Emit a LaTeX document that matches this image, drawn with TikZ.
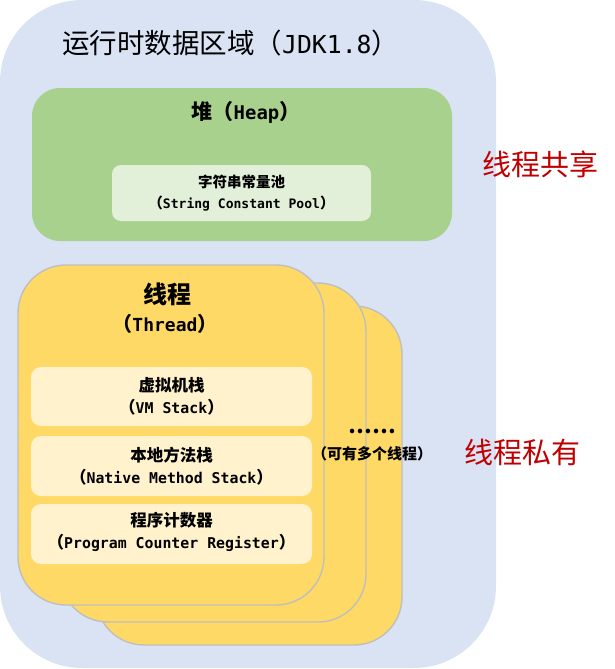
\documentclass[tikz,border=0pt]{standalone}
\usepackage{fontspec}
\setmainfont{Noto Sans CJK SC}
\newfontfamily\latfont[Scale=0.9]{DejaVu Sans Mono}

\definecolor{areablue}{HTML}{DAE3F3}
\definecolor{heapgreen}{HTML}{A9D18E}
\definecolor{poolgreen}{HTML}{E2F0D9}
\definecolor{cardyellow}{HTML}{FFD966}
\definecolor{cardedge}{HTML}{BFBFBF}
\definecolor{boxcream}{HTML}{FFF2CC}
\definecolor{labelred}{HTML}{C00000}

\newcommand{\fsz}[2]{\fontsize{#1}{#2}\selectfont}
\newcommand{\lat}[1]{{\latfont #1}}

\begin{document}
\begin{tikzpicture}[x=1pt,y=-1pt,
  panel/.style={anchor=north west, inner sep=0pt, outer sep=0pt},
  region/.style={panel, fill=areablue, rounded corners=82pt},
  heapbox/.style={panel, fill=heapgreen, rounded corners=28pt},
  poolbox/.style={panel, fill=poolgreen, rounded corners=9pt},
  threadcard/.style={panel, fill=cardyellow, draw=cardedge, line width=1.4pt, rounded corners=48pt,
    minimum width=306pt, minimum height=339pt},
  membox/.style={panel, fill=boxcream, rounded corners=10pt, minimum width=281pt},
  memtext/.style={inner sep=0pt, align=center, font=\bfseries\fsz{16.5}{22.5}},
  redlabel/.style={inner sep=0pt, text=labelred, font=\fsz{29}{32}},
]
\useasboundingbox (0,0) rectangle (615,669);

% runtime data area
\node[region, minimum width=496pt, minimum height=668pt] (area) at (0,0) {};
\node[anchor=west, inner sep=0pt, font=\fsz{27.5}{30}] (areatitle) at (62,43) {运行时数据区域（\lat{JDK1.8}）};

% heap with the string constant pool
\node[heapbox, minimum width=420pt, minimum height=153pt] (heap) at (32,88) {};
\node[inner sep=0pt, font=\bfseries\fsz{21}{24}] (heaptitle) at (246,112) {堆（\lat{Heap}）};
\node[poolbox, minimum width=259pt, minimum height=56pt] (pool) at (112,165) {};
\node[inner sep=0pt, align=center, font=\bfseries\fsz{14.5}{21}] (pooltext) at (pool.center) {字符串常量池\\（\lat{String Constant Pool}）};

% stacked thread cards, back to front
\node[threadcard] (thread3) at (96,306) {};
\node[threadcard] (thread2) at (60,283) {};
\node[threadcard, minimum height=340pt] (thread1) at (18,265) {};
\node[inner sep=0pt, font=\bfseries\fsz{24}{28}] (threadtitle) at (167,294) {线程};
\node[inner sep=0pt, font=\bfseries\fsz{20}{24}] (threadname) at (165,324) {（\lat{Thread}）};

% per-thread memory areas
\node[membox, minimum height=59pt] (vmstack) at (31,367) {};
\node[memtext] (vmtext) at (vmstack.center) {虚拟机栈\\（\lat{VM Stack}）};
\node[membox, minimum height=60pt] (nativestack) at (31,436) {};
\node[memtext] (nativetext) at (nativestack.center) {本地方法栈\\（\lat{Native Method Stack}）};
\node[membox, minimum height=60pt] (pcreg) at (31,504) {};
\node[memtext] (pctext) at ([yshift=2pt]pcreg.center) {程序计数器\\（\lat{Program Counter Register}）};

% more threads
\node[inner sep=0pt, font=\bfseries\fsz{21}{24}] (dots) at (372,431) {……};
\node[inner sep=0pt, font=\bfseries\fsz{15}{18}] (morethreads) at (372,454) {（可有多个线程）};

% side labels
\node[redlabel] (shared) at (540,164) {线程共享};
\node[redlabel] (private) at (522,452) {线程私有};
\end{tikzpicture}
\end{document}
